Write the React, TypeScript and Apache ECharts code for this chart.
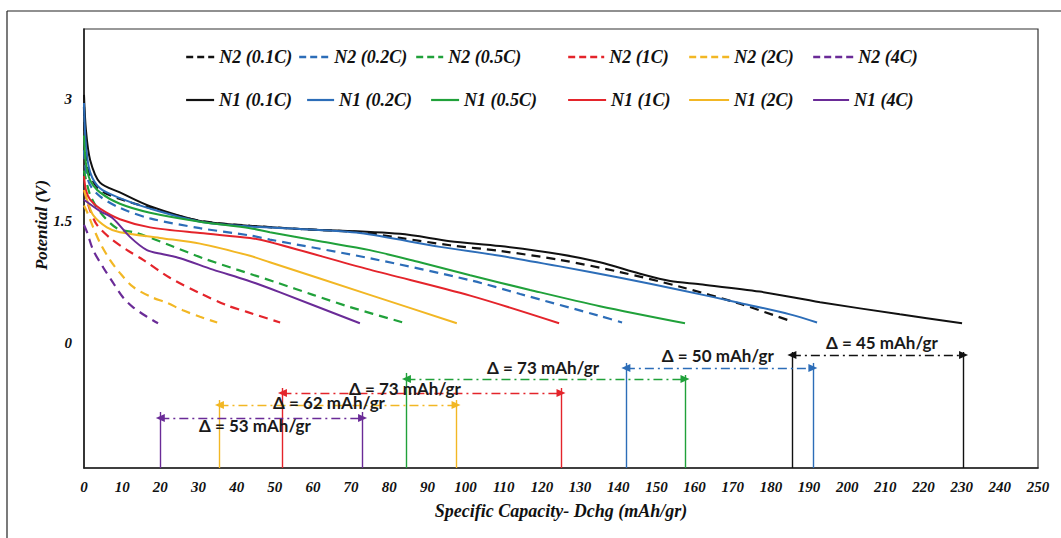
import React, { useEffect, useRef } from "react";
import * as echarts from "echarts";

// ---------------- DATA ----------------
// [specific capacity (mAh/gr), potential (V)]
const N2_01C = [[0,2.9],[0.5,2.37],[1.6,2.06],[4.2,1.88],[9.4,1.77],[17.3,1.66],[30.4,1.50],[43.5,1.44],[56.6,1.40],[72.3,1.36],[82.8,1.29],[95.9,1.20],[109,1.13],[124.7,1.02],[140.5,0.87],[156.2,0.69],[171.9,0.48],[185,0.27]];
const N2_02C = [[0,2.37],[0.5,2.12],[1.6,1.94],[4.2,1.80],[9.4,1.66],[17.3,1.53],[30.4,1.41],[43.5,1.32],[48.7,1.27],[74.9,1.04],[101.2,0.77],[114.3,0.60],[135.2,0.33],[141,0.25]];
const N2_05C = [[0,2.12],[1.6,1.82],[4.2,1.61],[8.6,1.41],[13.9,1.35],[22.5,1.20],[31.2,1.04],[40.1,0.90],[50.6,0.74],[60,0.59],[69.7,0.44],[83.6,0.25]];
const N2_1C = [[0,1.88],[1.6,1.63],[3.4,1.45],[6.8,1.29],[11.3,1.14],[15.5,1.02],[22.5,0.80],[30.4,0.61],[37.5,0.46],[42.7,0.38],[51.4,0.25]];
const N2_2C = [[0,1.69],[0.8,1.61],[2.4,1.42],[4.2,1.23],[6.8,1.02],[9.4,0.86],[12.8,0.69],[17.3,0.57],[21.8,0.49],[25.9,0.40],[30.4,0.32],[34.9,0.25]];
const N2_4C = [[0,1.45],[0.8,1.36],[2.4,1.14],[5,0.93],[7.6,0.74],[10.2,0.56],[12.8,0.44],[16.5,0.32],[19.4,0.24]];

const N1_01C = [[0,3.05],[0.5,2.62],[1.6,2.25],[4.2,1.97],[9.4,1.85],[17.3,1.68],[30.4,1.50],[43.5,1.44],[56.6,1.40],[82.8,1.34],[95.9,1.25],[109,1.19],[124.7,1.09],[135.2,0.99],[145.7,0.85],[153.6,0.76],[161.4,0.72],[177.1,0.63],[192.9,0.50],[213.8,0.35],[230.1,0.24]];
const N1_02C = [[0,2.95],[0.5,2.43],[1.6,2.10],[4.2,1.90],[9.4,1.78],[17.3,1.65],[30.4,1.49],[43.5,1.43],[56.6,1.40],[72.3,1.35],[93.3,1.18],[109,1.07],[124.7,0.94],[140.5,0.80],[156.2,0.65],[171.9,0.49],[185,0.35],[192.1,0.25]];
const N1_05C = [[0,2.55],[0.5,2.21],[1.6,2.0],[4.2,1.85],[9.4,1.71],[17.3,1.60],[30.4,1.49],[43.5,1.41],[48.7,1.36],[61.8,1.25],[74.9,1.14],[88,0.99],[101.2,0.83],[116.9,0.65],[135.2,0.45],[157.5,0.24]];
const N1_1C = [[0,2.05],[0.5,1.88],[1.6,1.76],[4.2,1.65],[9.4,1.52],[17.3,1.42],[30.4,1.35],[43.5,1.29],[48.7,1.24],[74.9,0.90],[101.2,0.58],[124.5,0.24]];
const N1_2C = [[0,1.88],[0.8,1.76],[2.4,1.57],[6,1.42],[9.4,1.36],[19.9,1.29],[30.4,1.22],[43.5,1.07],[48.7,0.99],[74.9,0.59],[97.7,0.24]];
const N1_4C = [[0,1.76],[4.2,1.62],[7.6,1.53],[12.1,1.30],[16.5,1.14],[20.7,1.09],[25.2,1.04],[33.8,0.90],[42.7,0.77],[51.4,0.62],[72.3,0.24]];

const N2_NAMES = ["N2 (0.1C)", "N2 (0.2C)", "N2 (0.5C)", "N2 (1C)", "N2 (2C)", "N2 (4C)"];
const N1_NAMES = ["N1 (0.1C)", "N1 (0.2C)", "N1 (0.5C)", "N1 (1C)", "N1 (2C)", "N1 (4C)"];
const N2_DATA = [N2_01C, N2_02C, N2_05C, N2_1C, N2_2C, N2_4C];
const N1_DATA = [N1_01C, N1_02C, N1_05C, N1_1C, N1_2C, N1_4C];

// capacity differences (mAh/gr): start and end of each span (4C, 2C, 1C, 0.5C, 0.2C, 0.1C)
const DELTA_FROM = [20, 35.5, 52, 84.5, 142, 185.5];
const DELTA_TO = [73, 97.5, 125, 157.5, 191, 230.5];
const DELTA_TEXT = ["Δ = 53 mAh/gr", "Δ = 62 mAh/gr", "Δ = 73 mAh/gr", "Δ = 73 mAh/gr", "Δ = 50 mAh/gr", "Δ = 45 mAh/gr"];

const Y_LABEL_VALUES = [0, 1.5, 3];

// ---------------- STYLE / LAYOUT ----------------
const COLORS = ["#111111", "#2c6db8", "#20a13a", "#e4242b", "#f2b724", "#6a2b97"];
const DELTA_COLOR_IDX = [5, 4, 3, 2, 1, 0];
const SERIF = "'Liberation Serif', 'Times New Roman', serif";
const SANS = "Lato, 'Liberation Sans', sans-serif";
const Y_MIN = -1.54;
const Y_MAX = 3.86;
// annotation layout (in axis units)
const ARROW_Y = [-0.925, -0.765, -0.617, -0.445, -0.31, -0.15];
const VTOP_L = [-0.851, -0.704, -0.556, -0.371, -0.248, -0.113];
const VTOP_R = [-0.851, -0.704, -0.556, -0.396, -0.248, -0.113];
const TEXT_POS = [[44.8, -1.023], [64.2, -0.74], [84.1, -0.556], [120.3, -0.298], [166.1, -0.162], [209.1, -0.002]];
// legend layout
const LEG_ROW_Y = [55, 98];
const LEG_TEXT_X = [[218, 333, 447, 608, 733, 857], [218, 338, 463, 610, 733, 853]];
const LEG_ICON_X = [[185, 298, 415, 567, 688, 812], [185, 306, 430, 567, 688, 812]];

const labelFont = { fontFamily: SERIF, fontStyle: "italic" as const, fontWeight: "bold" as const, color: "#111" };

function buildOption() {
  const series: any[] = [];
  N2_DATA.forEach((d, i) => {
    series.push({
      name: N2_NAMES[i], type: "line", data: d, symbol: "none", smooth: 0.3,
      lineStyle: { color: COLORS[i], width: 2.2, type: [9, 6] }, itemStyle: { color: COLORS[i] }, z: 2,
    });
  });
  N1_DATA.forEach((d, i) => {
    series.push({
      name: N1_NAMES[i], type: "line", data: d, symbol: "none", smooth: 0.3,
      lineStyle: { color: COLORS[i], width: 2, type: "solid" }, itemStyle: { color: COLORS[i] }, z: 3,
    });
  });

  const vLines: any[] = [];
  const arrows: any[] = [];
  const texts: any[] = [];
  DELTA_FROM.forEach((from, i) => {
    const to = DELTA_TO[i];
    const c = COLORS[DELTA_COLOR_IDX[i]];
    vLines.push([{ coord: [from, Y_MIN], lineStyle: { color: c, width: 1.4, type: "solid" } }, { coord: [from, VTOP_L[i]] }]);
    vLines.push([{ coord: [to, Y_MIN], lineStyle: { color: c, width: 1.4, type: "solid" } }, { coord: [to, VTOP_R[i]] }]);
    arrows.push([{ coord: [from, ARROW_Y[i]], lineStyle: { color: c, width: 1.4, type: [9, 4, 2, 4] }, itemStyle: { color: c } }, { coord: [to, ARROW_Y[i]], itemStyle: { color: c } }]);
    texts.push({
      coord: TEXT_POS[i], symbol: "circle", symbolSize: 0,
      label: { show: true, position: "inside", formatter: DELTA_TEXT[i], color: "#1a1a1a", fontFamily: SANS, fontWeight: "bold", fontSize: 17 },
    });
  });
  series.push({
    name: "_vlines", type: "line", data: [], silent: true,
    markLine: { silent: true, symbol: ["none", "none"], label: { show: false }, data: vLines, animation: false },
  });
  series.push({
    name: "_arrows", type: "line", data: [], silent: true,
    markLine: { silent: true, symbol: ["triangle", "triangle"], symbolSize: [8, 9], label: { show: false }, data: arrows, animation: false },
    markPoint: { silent: true, data: texts, animation: false, z: 10 },
  });

  const legends: any[] = [];
  [N2_NAMES, N1_NAMES].forEach((names, row) => {
    names.forEach((n, i) => {
      const iconX = LEG_ICON_X[row][i];
      const w = LEG_TEXT_X[row][i] - iconX - 5;
      legends.push({
        data: [n], left: iconX, top: LEG_ROW_Y[row] - 7, itemWidth: w, itemHeight: 14, padding: 0,
        selectedMode: false,
        itemStyle: { opacity: 0 },
        lineStyle: row === 0 ? { type: [7, 4], width: 2.4 } : { width: 2.2 },
        textStyle: { ...labelFont, fontSize: 18 },
      });
    });
  });

  return {
    animation: false,
    backgroundColor: "#ffffff",
    grid: { left: 84, right: 23, top: 29, bottom: 70, show: true, borderColor: "#333", borderWidth: 1.2, backgroundColor: "transparent" },
    legend: legends,
    xAxis: {
      type: "value", min: 0, max: 250, interval: 10,
      axisLine: { show: true, onZero: false, lineStyle: { color: "#222", width: 1.6 } },
      axisTick: { show: false }, splitLine: { show: false },
      axisLabel: { ...labelFont, fontSize: 15, margin: 11 },
      name: "Specific Capacity- Dchg (mAh/gr)", nameLocation: "middle", nameGap: 34,
      nameTextStyle: { ...labelFont, fontSize: 18 },
    },
    yAxis: {
      type: "value", min: Y_MIN, max: Y_MAX,
      axisLine: { show: true, onZero: false, lineStyle: { color: "#222", width: 1.6 } },
      axisTick: { show: false }, splitLine: { show: false },
      axisLabel: { ...labelFont, fontSize: 15, margin: 12, customValues: Y_LABEL_VALUES, formatter: (v: number) => String(v) },
    },
    graphic: [
      { type: "line", shape: { x1: 7, y1: 11, x2: 1061, y2: 11 }, style: { stroke: "#222", lineWidth: 1.2 }, silent: true },
      { type: "line", shape: { x1: 7, y1: 11, x2: 7, y2: 538 }, style: { stroke: "#222", lineWidth: 1.2 }, silent: true },
      {
        type: "text", x: 41, y: 225, rotation: Math.PI / 2, silent: true,
        style: { text: "Potential (V)", align: "center", verticalAlign: "middle", fill: "#111", font: "italic bold 17px 'Liberation Serif', serif" },
      },
    ],
    series,
  };
}

export default function App() {
  const ref = useRef<HTMLDivElement>(null);
  useEffect(() => {
    document.body.style.margin = "0";
    const chart = echarts.init(ref.current!, null, { renderer: "svg" });
    chart.setOption(buildOption() as any);
    return () => chart.dispose();
  }, []);
  return <div ref={ref} style={{ width: 1061, height: 538 }} />;
}
